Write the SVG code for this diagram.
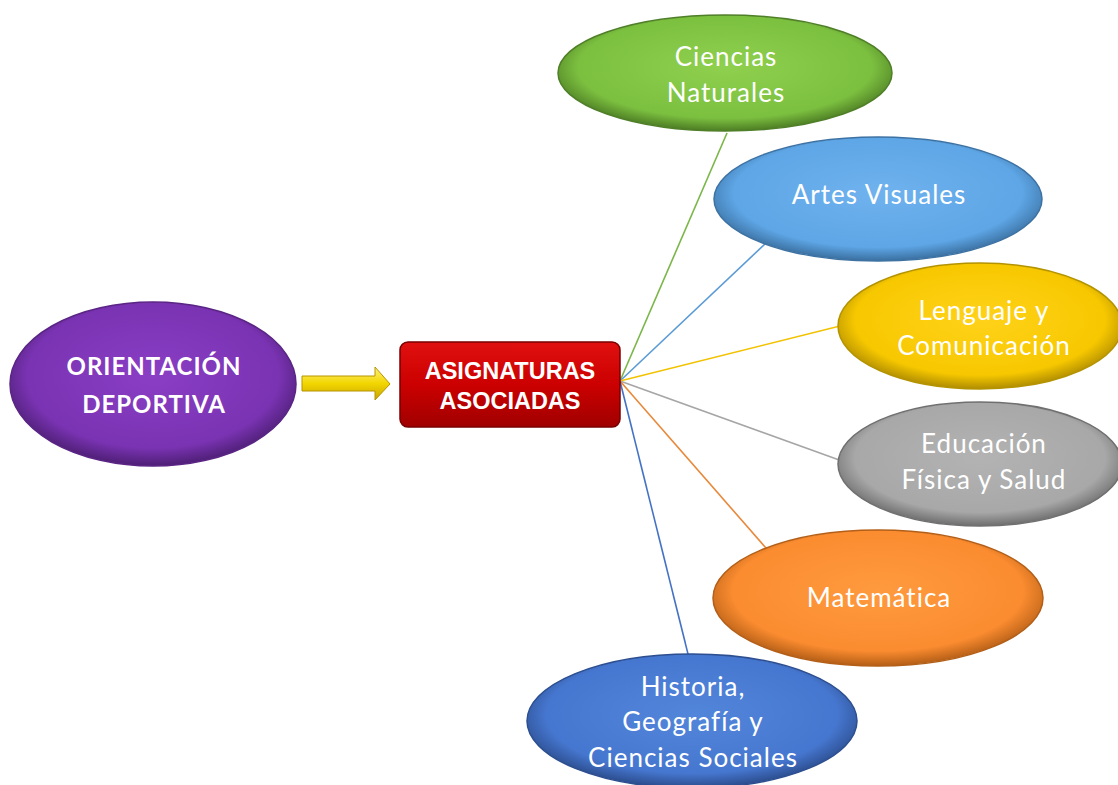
<svg xmlns="http://www.w3.org/2000/svg" width="1118" height="785" viewBox="0 0 1118 785">
<style>
.lbl{font-family:Lato,"Open Sans",sans-serif;font-size:26px;letter-spacing:1px;fill:#ffffff;text-anchor:middle}
.bold{font-family:Lato,"Liberation Sans",sans-serif;font-weight:bold;font-size:24px;letter-spacing:1px;fill:#ffffff;text-anchor:middle}
.box{font-family:"Liberation Sans",Arial,sans-serif;font-weight:bold;font-size:23.5px;fill:#ffffff;text-anchor:middle}
.conn line{stroke-width:1.6;fill:none}
.node ellipse{stroke-width:1.5}
</style>
<defs>
<radialGradient id="gPurple" cx="50%" cy="45%" r="55%"><stop offset="0" stop-color="#8a3ec4"/><stop offset="0.8" stop-color="#7a33b3"/><stop offset="1" stop-color="#4e1f75"/></radialGradient>
<radialGradient id="gGreen" cx="50%" cy="45%" r="55%"><stop offset="0" stop-color="#8fd04e"/><stop offset="0.8" stop-color="#7cc040"/><stop offset="1" stop-color="#4d7d24"/></radialGradient>
<radialGradient id="gLBlue" cx="50%" cy="45%" r="55%"><stop offset="0" stop-color="#6fb2ee"/><stop offset="0.8" stop-color="#5ea6e6"/><stop offset="1" stop-color="#3a6f9f"/></radialGradient>
<radialGradient id="gYellow" cx="50%" cy="45%" r="55%"><stop offset="0" stop-color="#ffd21a"/><stop offset="0.8" stop-color="#f7c800"/><stop offset="1" stop-color="#b08d00"/></radialGradient>
<radialGradient id="gGray" cx="50%" cy="45%" r="55%"><stop offset="0" stop-color="#b3b3b3"/><stop offset="0.8" stop-color="#a8a8a8"/><stop offset="1" stop-color="#6e6e6e"/></radialGradient>
<radialGradient id="gOrange" cx="50%" cy="45%" r="55%"><stop offset="0" stop-color="#ff9a3e"/><stop offset="0.8" stop-color="#fb8c30"/><stop offset="1" stop-color="#b45e16"/></radialGradient>
<radialGradient id="gBlue" cx="50%" cy="45%" r="55%"><stop offset="0" stop-color="#5286da"/><stop offset="0.8" stop-color="#4677d0"/><stop offset="1" stop-color="#2b4c8c"/></radialGradient>
<linearGradient id="gRed" x1="0" y1="0" x2="0" y2="1"><stop offset="0" stop-color="#e01010"/><stop offset="0.5" stop-color="#cc0000"/><stop offset="1" stop-color="#a00000"/></linearGradient>
<linearGradient id="gArrow" x1="0" y1="0" x2="0" y2="1"><stop offset="0" stop-color="#fff27a"/><stop offset="0.5" stop-color="#f2d600"/><stop offset="1" stop-color="#c9a400"/></linearGradient>
</defs>
<rect width="1118" height="785" fill="#ffffff"/>
<g id="connectors" class="conn">
<line x1="620" y1="381" x2="727" y2="133" stroke="#7ab648"/>
<line x1="620" y1="381" x2="766" y2="243" stroke="#5b9bd5"/>
<line x1="620" y1="381" x2="840" y2="326" stroke="#f2c200"/>
<line x1="620" y1="381" x2="842" y2="461" stroke="#a6a6a6"/>
<line x1="620" y1="381" x2="766" y2="548" stroke="#e8883a"/>
<line x1="620" y1="381" x2="689" y2="658" stroke="#4472c4"/>
<path id="arrow" d="M302,376 L375,376 L375,367 L390,384 L375,400 L375,391 L302,391 Z" fill="url(#gArrow)" stroke="#b89400" stroke-width="1"/>
</g>
<g id="orientacion" class="node">
<ellipse cx="153" cy="384" rx="143" ry="82" fill="url(#gPurple)" stroke="#5a2585"/>
<text class="bold" x="154" y="375">ORIENTACIÓN</text>
<text class="bold" x="154" y="413">DEPORTIVA</text>
</g>
<g id="asignaturas" class="node">
<rect x="400" y="342" width="220" height="85" rx="8" fill="url(#gRed)" stroke="#7a0000" stroke-width="1.5"/>
<text class="box" x="510" y="379">ASIGNATURAS</text>
<text class="box" x="510" y="409">ASOCIADAS</text>
</g>
<g id="ciencias-naturales" class="node">
<ellipse cx="725" cy="73" rx="167" ry="58" fill="url(#gGreen)" stroke="#4f7f28"/>
<text class="lbl" x="726" y="66">Ciencias</text>
<text class="lbl" x="726" y="102">Naturales</text>
</g>
<g id="artes-visuales" class="node">
<ellipse cx="878" cy="199" rx="164" ry="62" fill="url(#gLBlue)" stroke="#3d72a3"/>
<text class="lbl" x="879" y="204">Artes Visuales</text>
</g>
<g id="lenguaje" class="node">
<ellipse cx="980" cy="326" rx="142" ry="63" fill="url(#gYellow)" stroke="#b49300"/>
<text class="lbl" x="984" y="320">Lenguaje y</text>
<text class="lbl" x="984" y="355">Comunicación</text>
</g>
<g id="educacion-fisica" class="node">
<ellipse cx="980" cy="464" rx="142" ry="62" fill="url(#gGray)" stroke="#707070"/>
<text class="lbl" x="984" y="453">Educación</text>
<text class="lbl" x="984" y="489">Física y Salud</text>
</g>
<g id="matematica" class="node">
<ellipse cx="878" cy="598" rx="165" ry="68" fill="url(#gOrange)" stroke="#b35f18"/>
<text class="lbl" x="879" y="607">Matemática</text>
</g>
<g id="historia" class="node">
<ellipse cx="692" cy="721" rx="165" ry="67" fill="url(#gBlue)" stroke="#2d4f90"/>
<text class="lbl" x="693" y="696">Historia,</text>
<text class="lbl" x="693" y="731">Geografía y</text>
<text class="lbl" x="693" y="767">Ciencias Sociales</text>
</g>
</svg>
